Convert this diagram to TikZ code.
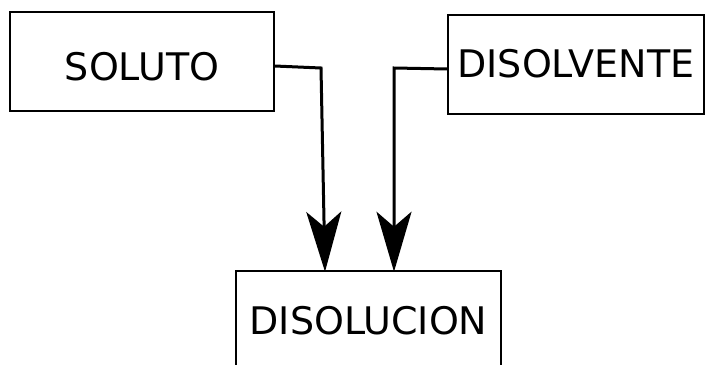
\documentclass[tikz,border=0pt]{standalone}
\usepackage{fontspec}
\setmainfont{DejaVu Sans}
\usetikzlibrary{arrows.meta}
\tikzset{
  box/.style={draw=black, line width=1.5pt, inner sep=0pt, font=\fontsize{38pt}{40pt}\selectfont, text depth=0pt, minimum height=99pt},
  flow/.style={line width=3pt, -{Stealth[length=60pt,width=35pt,inset=15pt]}}
}
\begin{document}
\begin{tikzpicture}[x=1pt,y=-1pt]
\useasboundingbox[fill=white] (0,0) rectangle (706,364);
\node[box, minimum width=264pt, text height=37pt] (s) at (142,61.5) {SOLUTO};
\node[box, minimum width=256pt, text height=26pt] (v) at (576,64.5) {DISOLVENTE};
\node[box, minimum width=265pt, text height=27.7pt] (d) at (368.5,320.5) {DISOLUCION};
\coordinate (c1) at (321,68);
\coordinate (c2) at (394,68);
\draw[flow] ([yshift=-4.5pt]s.east) -- (c1) -- ([xshift=-43.5pt,yshift=-1.5pt]d.north);
\draw[flow] ([yshift=-4.5pt]v.west) -- (c2) -- ([xshift=25.5pt,yshift=-1.5pt]d.north);
\end{tikzpicture}
\end{document}
